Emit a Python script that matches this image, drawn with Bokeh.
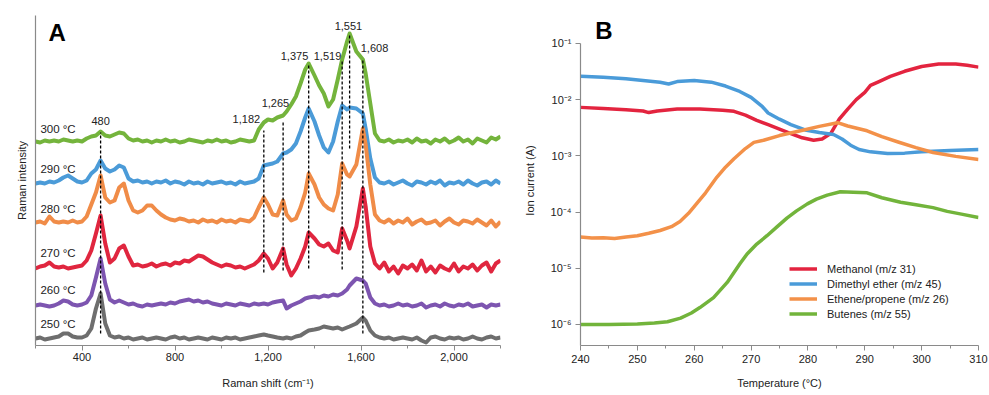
from bokeh.plotting import figure
from bokeh.layouts import row
from bokeh.models import (FixedTicker, NumeralTickFormatter, CustomJSTickFormatter,
                          Legend, LegendItem, Label)
from bokeh.core.properties import value
from bokeh.embed import file_html
from bokeh.resources import INLINE

FONT = "Liberation Sans"

# ---------------- Panel A data (Raman spectra, relative intensity) ----------------
raman_shift = (list(range(200, 1161, 20))
               + [1182, 1200, 1220, 1240, 1265, 1280, 1300, 1320, 1340, 1360,
                  1375, 1400, 1420, 1440, 1460, 1480, 1500, 1519, 1540, 1551,
                  1580, 1608, 1620, 1640]
               + list(range(1660, 2201, 20)))

temps_A = ["250 °C", "260 °C", "270 °C", "280 °C", "290 °C", "300 °C"]
offsets_A = [7, 40, 77, 123, 162, 204]
colors_A = ["#6e6e6e", "#7d55b0", "#e0263f", "#f08c48", "#4b9bd8", "#74b43c"]

spec_250 = ([0, 1, -1, 0, 1, 2, 5, 5, 2, 1, 1, 3, 10, 30, 45, 15, 3, 1, 2, 0,
             1, -1, 0, 1, -1, 0, 1, 0, -1, 1, 2, 0, 1, -1, 0, 1, 0, -1, 1, 0,
             -1, 1, 0, 1, -1, 0, 1, 2, 3]
            + [4, 3, 2, 1, 0, 1, 0, 2, 3, 6, 8, 9, 10, 12, 11, 10, 11, 9, 11, 12,
               15, 21, 18, 8]
            + [3, 1, 0, 1, -1, 0, 1, 0, -1, 1, -2, -4, 1, 2, 0, -1, 1, 0, 1, -1,
               0, 2, 0, -1, 1, 2, 0, 1])
spec_260 = ([0, 1, 0, -1, 0, 2, 5, 4, 1, 0, 1, 3, 10, 28, 47, 22, 6, 3, 5, 3,
             1, 2, 0, -1, 1, 0, 1, 2, 1, 3, 2, 4, 5, 6, 4, 5, 3, 4, 2, 1,
             0, 2, 1, 0, 2, 1, 0, 2, 1]
            + [2, 1, 3, 4, 5, -3, 0, 2, 4, 7, 8, 9, 8, 10, 9, 11, 10, 12, 16, 20,
               27, 25, 22, 8]
            + [2, 0, 1, -1, 0, 2, 0, 1, -1, 0, 2, -2, 0, 1, -1, 2, 0, -1, 1, 0,
               2, -1, 0, 1, -2, 1, 0, 1])
spec_270 = ([0, 2, 3, 6, 2, 1, 2, 0, 1, 2, 3, 8, 18, 35, 53, 25, 6, 10, 20, 23,
             12, 3, 4, 2, 3, 5, 2, 4, 5, 3, 6, 5, 8, 7, 10, 13, 12, 9, 6, 4,
             2, 4, 3, 1, 2, 0, 2, 4, 8]
            + [15, 10, 0, 6, 20, 4, -7, 0, 10, 22, 36, 30, 24, 22, 25, 18, 16, 40, 28, 20,
               42, 80, 62, 22]
            + [5, 0, 6, -3, 2, -5, 3, 0, 4, -2, 8, -3, 2, -4, 3, 0, -2, 5, -3, 2,
               0, 4, -2, 3, 6, -3, 5, 8])
spec_280 = ([0, 1, -1, 6, 1, 0, 1, 0, 2, 0, 1, 6, 18, 30, 47, 25, 20, 22, 35, 39,
             22, 12, 10, 12, 17, 17, 12, 8, 5, 3, 2, 4, 3, 1, 2, 0, 3, 1, 2, 0,
             3, 1, 2, 0, 3, 2, 1, 5, 15]
            + [25, 18, 8, 7, 22, 8, 2, 4, 15, 30, 49, 38, 25, 18, 14, 12, 28, 59, 48, 46,
               58, 94, 78, 38]
            + [8, 2, 0, 3, -1, 2, 0, 4, -2, 1, 3, -1, 0, 2, -3, 1, 4, 0, -2, 2,
               1, -1, 3, 0, -3, 2, -4, 1])
spec_290 = ([0, 1, 0, 2, 1, 3, 6, 8, 5, 2, 1, 3, 10, 14, 23, 15, 12, 14, 18, 16,
             5, 2, 3, 1, 2, 0, 2, 1, 3, 0, 2, 1, -1, 2, 0, 1, -1, 2, 0, 1,
             2, 0, 1, -1, 2, 0, 1, 2, 5]
            + [18, 19, 20, 22, 30, 31, 34, 40, 52, 66, 75, 62, 48, 36, 31, 42, 62, 78, 74, 76,
               75, 70, 55, 25]
            + [6, 1, 0, 2, -1, 1, 3, 0, -2, 2, 1, -1, 2, 0, 3, -2, 1, 0, 2, -1,
               3, 0, -2, 1, 2, -1, 3, 0])
spec_300 = ([0, -1, 1, 0, 1, 0, 2, 1, 0, 1, 0, 3, 5, 6, 10, 6, 5, 7, 9, 8,
             3, 1, 2, 0, 1, -1, 1, 0, 2, 0, 1, -1, 0, 2, 1, 0, -1, 1, 0, 2,
             0, 1, -1, 0, 2, 1, 0, 1, 12]
            + [19, 22, 21, 24, 26, 30, 37, 45, 58, 72, 78, 66, 56, 48, 35, 42, 62, 82, 100, 108,
               90, 82, 68, 38]
            + [8, 1, 0, 2, -1, 1, 0, 2, -1, 3, 0, 1, -2, 2, 0, 3, -1, 1, 4, 0,
               2, -2, 3, 1, -1, 4, 2, 5])
spectra = [spec_250, spec_260, spec_270, spec_280, spec_290, spec_300]

temp_label_y = [22, 56, 93, 137, 177, 217]

peak_pos = [480, 1182, 1265, 1375, 1519, 1551, 1608]
peak_text = ["480", "1,182", "1,265", "1,375", "1,519", "1,551", "1,608"]
dash_top = [213, 215, 224, 280, 285, 312, 285]
dash_bottom = [12, 73, 75, 77, 76, 197, 12]
peak_label_x = [480, 1107, 1232, 1314, 1456, 1546, 1658]
peak_label_y = [225, 227, 243, 290, 290, 320, 298]

# ---------------- Panel B data (ion currents) ----------------
meth_T = [240, 244, 248, 251, 252, 253.5, 257, 261, 265, 267, 269, 271, 273, 275, 277, 279,
          281, 282.5, 284, 285.5, 287, 288.5, 290, 291, 292.5, 294.5, 297, 300, 303, 306, 308, 310]
meth_I = [7.3e-3, 7.0e-3, 6.6e-3, 6.3e-3, 5.9e-3, 6.3e-3, 6.8e-3, 6.8e-3, 6.5e-3, 6.2e-3,
          5.3e-3, 4.3e-3, 3.6e-3, 3.0e-3, 2.5e-3, 2.1e-3, 1.9e-3, 2.0e-3, 2.5e-3, 4.5e-3,
          6.8e-3, 1.0e-2, 1.35e-2, 1.8e-2, 2.1e-2, 2.6e-2, 3.2e-2, 3.9e-2, 4.3e-2, 4.3e-2,
          4.1e-2, 3.8e-2]
dme_T = [240, 244, 248, 251, 254, 255.5, 257, 260, 263, 265.5, 268, 270, 272, 273, 275, 277,
         279.5, 282, 284.5, 286, 287.5, 289, 291, 294, 297, 300, 305, 310]
dme_I = [2.6e-2, 2.5e-2, 2.35e-2, 2.2e-2, 2.05e-2, 1.9e-2, 2.1e-2, 2.2e-2, 2.05e-2, 1.75e-2,
         1.4e-2, 1.1e-2, 7.5e-3, 5.8e-3, 4.5e-3, 3.6e-3, 2.9e-3, 2.6e-3, 2.4e-3, 2.0e-3,
         1.55e-3, 1.3e-3, 1.18e-3, 1.1e-3, 1.12e-3, 1.18e-3, 1.25e-3, 1.3e-3]
ethe_T = [240, 242, 244, 246, 248, 250, 252, 254, 256, 257.5, 259, 260.5, 262, 264, 265.5,
          267, 269, 270.5, 272.2, 275, 278.7, 282, 285.2, 287, 290.4, 293, 296, 299, 302, 306, 310]
ethe_I = [3.6e-5, 3.45e-5, 3.5e-5, 3.4e-5, 3.6e-5, 3.8e-5, 4.2e-5, 4.7e-5, 5.5e-5, 6.8e-5,
          9.5e-5, 1.45e-4, 2.2e-4, 4.2e-4, 6.3e-4, 8.9e-4, 1.35e-3, 1.74e-3, 1.9e-3, 2.3e-3,
          2.8e-3, 3.35e-3, 3.9e-3, 3.4e-3, 2.8e-3, 2.2e-3, 1.75e-3, 1.4e-3, 1.15e-3, 9.8e-4, 8.6e-4]
but_T = [240, 245, 250, 253, 255.3, 257.6, 259.5, 261, 263.4, 265.8, 268.1, 269.3, 271, 272.8,
         274.5, 276.3, 278, 279.9, 281.5, 283.4, 285.7, 288, 290.4, 293, 296.3, 299, 302, 304.5,
         307, 310]
but_I = [1.0e-6, 1.0e-6, 1.02e-6, 1.06e-6, 1.12e-6, 1.3e-6, 1.6e-6, 2.0e-6, 3.0e-6, 5.6e-6,
         1.23e-5, 1.8e-5, 2.7e-5, 3.8e-5, 5.4e-5, 7.8e-5, 1.05e-4, 1.4e-4, 1.7e-4, 2.0e-4,
         2.3e-4, 2.25e-4, 2.2e-4, 1.8e-4, 1.5e-4, 1.35e-4, 1.2e-4, 1.03e-4, 9.2e-5, 8.0e-5]

series_B = [
    ("Methanol (m/z 31)", meth_T, meth_I, "#e3243f"),
    ("Dimethyl ether (m/z 45)", dme_T, dme_I, "#4a9bd9"),
    ("Ethene/propene (m/z 26)", ethe_T, ethe_I, "#f39149"),
    ("Butenes (m/z 55)", but_T, but_I, "#72b43b"),
]

AXIS_COLOR = "#8a8a8a"
TEXT_COLOR = "#222222"


def style_axis(ax):
    ax.axis_line_color = AXIS_COLOR
    ax.axis_line_width = 1.2
    ax.major_tick_line_color = AXIS_COLOR
    ax.minor_tick_line_color = AXIS_COLOR
    ax.major_tick_in = 0
    ax.major_tick_out = 5
    ax.minor_tick_in = 0
    ax.minor_tick_out = 3
    ax.major_label_text_font = FONT
    ax.major_label_text_font_size = "11px"
    ax.major_label_text_color = TEXT_COLOR
    ax.axis_label_text_font = FONT
    ax.axis_label_text_font_size = "11px"
    ax.axis_label_text_font_style = "normal"
    ax.axis_label_text_color = TEXT_COLOR


# ---------------- Panel A ----------------
pA = figure(width=510, height=395, x_range=(200, 2200), y_range=(0, 330),
            output_backend="svg", toolbar_location=None, title=None,
            min_border_left=35, min_border_right=10, min_border_top=15, min_border_bottom=50)
pA.outline_line_color = None
pA.grid.visible = False
for ax in (pA.xaxis[0], pA.yaxis[0]):
    style_axis(ax)
pA.xaxis.ticker = FixedTicker(ticks=[400, 800, 1200, 1600, 2000],
                              minor_ticks=[200, 600, 1000, 1400, 1800, 2200])
pA.xaxis.formatter = NumeralTickFormatter(format="0,0")
pA.xaxis.axis_label = "Raman shift (cm⁻¹)"
pA.xaxis.major_label_standoff = 2
pA.xaxis.axis_label_standoff = 13
pA.yaxis.ticker = FixedTicker(ticks=[])
pA.yaxis.major_tick_out = 0
pA.yaxis.major_label_standoff = 0
pA.yaxis.axis_label = "Raman intensity"
pA.yaxis.axis_label_standoff = 8

for k in range(len(spectra) - 1, -1, -1):
    ys = [v + offsets_A[k] for v in spectra[k]]
    pA.line(raman_shift, ys, line_color=colors_A[k], line_width=4, line_join="round")

pA.segment(x0=peak_pos, y0=dash_bottom, x1=peak_pos, y1=dash_top,
           line_color="black", line_width=1.3, line_dash="3 2")

pA.text(x=peak_label_x, y=peak_label_y, text=peak_text, text_font=value(FONT),
        text_font_size="11px", text_color=TEXT_COLOR, text_align="center", text_baseline="middle")
pA.text(x=[221] * 6, y=temp_label_y, text=temps_A, text_font=value(FONT),
        text_font_size="11.5px", text_color=TEXT_COLOR, text_align="left", text_baseline="middle")
pA.add_layout(Label(x=256, y=313, text="A", text_font=FONT, text_font_size="24px",
                    text_font_style="bold", text_color="black", text_baseline="middle"))

# ---------------- Panel B ----------------
pB = figure(width=479, height=395, x_range=(240, 310), y_range=(4.23e-7, 0.3148),
            y_axis_type="log", output_backend="svg", toolbar_location=None, title=None,
            min_border_left=70, min_border_right=11, min_border_top=15, min_border_bottom=50)
pB.outline_line_color = None
pB.grid.visible = False
for ax in (pB.xaxis[0], pB.yaxis[0]):
    style_axis(ax)
pB.xaxis.ticker = FixedTicker(ticks=[240, 250, 260, 270, 280, 290, 300, 310],
                              minor_ticks=[245, 255, 265, 275, 285, 295, 305])
pB.xaxis.axis_label = "Temperature (°C)"
pB.xaxis.major_label_standoff = 4
pB.xaxis.axis_label_standoff = 11
pB.yaxis.ticker = FixedTicker(ticks=[1e-6, 1e-5, 1e-4, 1e-3, 1e-2, 1e-1], minor_ticks=[])
pB.yaxis.bounds = (4.23e-7, 0.1)
pB.yaxis.formatter = CustomJSTickFormatter(code="""
const e = Math.round(Math.log10(tick));
const sup = {'0':'⁰','1':'¹','2':'²','3':'³','4':'⁴','5':'⁵','6':'⁶','7':'⁷','8':'⁸','9':'⁹','-':'⁻'};
return '10' + String(e).split('').map(c => sup[c]).join('');
""")
pB.yaxis.major_label_standoff = 4
pB.yaxis.axis_label = "Ion current (A)"
pB.yaxis.axis_label_standoff = 12

items = []
for name, T, I, col in series_B:
    r = pB.line(T, I, line_color=col, line_width=3.5, line_join="round")
    items.append(LegendItem(label=name, renderers=[r]))
legend = Legend(items=items, location=(209, 24), label_text_font=FONT,
                label_text_font_size="11px", label_text_color=TEXT_COLOR,
                glyph_width=28, glyph_height=15, label_height=15, label_standoff=10,
                spacing=0, padding=0, margin=0, border_line_color=None,
                background_fill_alpha=0)
pB.add_layout(legend)

pB.add_layout(Label(x=242.6, y=0.17, text="B", text_font=FONT, text_font_size="24px",
                    text_font_style="bold", text_color="black", text_baseline="middle"))

layout = row(pA, pB, spacing=0)
open("out.html", "w").write(file_html(layout, INLINE))
